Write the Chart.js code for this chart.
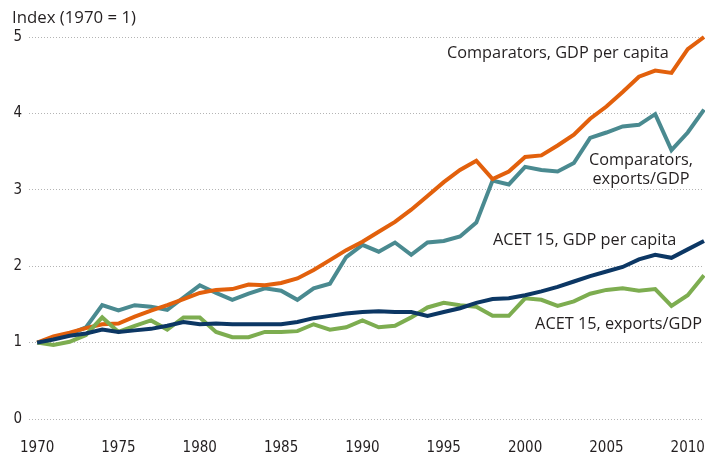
<!DOCTYPE html>
<html>
<head>
<meta charset="utf-8">
<script src="https://cdn.jsdelivr.net/npm/chart.js@4/dist/chart.umd.min.js"></script>
<style>
  html, body { margin: 0; padding: 0; background: #fff; }
  #wrap { width: 705px; height: 456px; position: relative; }
</style>
</head>
<body>
<div id="wrap"><canvas id="c" width="705" height="456"></canvas></div>
<script>
const years = [1970,1971,1972,1973,1974,1975,1976,1977,1978,1979,
               1980,1981,1982,1983,1984,1985,1986,1987,1988,1989,
               1990,1991,1992,1993,1994,1995,1996,1997,1998,1999,
               2000,2001,2002,2003,2004,2005,2006,2007,2008,2009,
               2010,2011];
const xTickLabels = [1970,1975,1980,1985,1990,1995,2000,2005,2010];
const yTickLabels = [0,1,2,3,4,5];

const compGdp = [1.00,1.08,1.13,1.19,1.24,1.25,1.34,1.42,1.49,1.57,
                 1.65,1.69,1.70,1.76,1.75,1.78,1.84,1.95,2.08,2.21,
                 2.32,2.45,2.58,2.74,2.92,3.10,3.26,3.38,3.14,3.24,
                 3.43,3.45,3.58,3.72,3.93,4.09,4.28,4.48,4.56,4.53,
                 4.84,5.00];
const compExp = [1.00,1.05,1.11,1.20,1.49,1.42,1.49,1.47,1.43,1.59,
                 1.75,1.65,1.56,1.64,1.71,1.68,1.56,1.71,1.77,2.12,
                 2.28,2.19,2.31,2.15,2.31,2.33,2.39,2.57,3.12,3.07,
                 3.30,3.26,3.24,3.35,3.68,3.75,3.83,3.85,3.99,3.52,
                 3.75,4.05];
const acetGdp = [1.00,1.04,1.09,1.12,1.17,1.14,1.16,1.18,1.22,1.27,
                 1.24,1.25,1.24,1.24,1.24,1.24,1.27,1.32,1.35,1.38,
                 1.40,1.41,1.40,1.40,1.35,1.40,1.45,1.52,1.57,1.58,
                 1.62,1.67,1.73,1.80,1.87,1.93,1.99,2.09,2.15,2.11,
                 2.22,2.33];
const acetExp = [1.00,0.97,1.01,1.10,1.33,1.14,1.22,1.29,1.17,1.33,
                 1.33,1.14,1.07,1.07,1.14,1.14,1.15,1.24,1.17,1.20,
                 1.29,1.20,1.22,1.33,1.46,1.52,1.49,1.47,1.35,1.35,
                 1.58,1.56,1.48,1.54,1.64,1.69,1.71,1.68,1.70,1.48,
                 1.62,1.88];

const seriesNames = ["ACET 15, GDP per capita","ACET 15, exports/GDP","Comparators, GDP per capita","Comparators, exports/GDP"];
const colors = { navy:"#0c3764", green:"#7dad50", orange:"#e2600c", teal:"#4a8a90" };

function pts(arr){ return arr.map((v,i)=>({x:years[i], y:v})); }

const labelPlugin = {
  id: "labels",
  afterDraw(chart) {
    const ctx = chart.ctx;
    ctx.save();
    ctx.fillStyle = "#231f20";
    ctx.textBaseline = "alphabetic";
    ctx.font = "16.8px 'Open Sans', 'Noto Sans', sans-serif";
    ctx.textAlign = "left";
    ctx.fillText("Index (1970 = 1)", 12, 23);
    ctx.font = "16.3px 'Open Sans', 'Noto Sans', sans-serif";
    ctx.fillText("Comparators, GDP per capita", 447, 58);
    ctx.fillText("ACET 15, GDP per capita", 493, 244.5);
    ctx.textAlign = "right";
    ctx.fillText("ACET 15, exports/GDP", 702, 328.5);
    ctx.textAlign = "center";
    ctx.fillText("Comparators,", 641, 165);
    ctx.fillText("exports/GDP", 641, 184);
    ctx.restore();
  }
};

const tickFont = { family: "'DejaVu Sans Condensed', 'Liberation Sans Narrow', sans-serif", size: 15 };

new Chart(document.getElementById("c"), {
  type: "line",
  data: {
    datasets: [
      { label: seriesNames[0], data: pts(acetGdp), borderColor: colors.navy },
      { label: seriesNames[1], data: pts(acetExp), borderColor: colors.green },
      { label: seriesNames[2], data: pts(compGdp), borderColor: colors.orange },
      { label: seriesNames[3], data: pts(compExp), borderColor: colors.teal }
    ].map(d => Object.assign(d, { borderWidth: 4, pointRadius: 0, tension: 0, fill: false, clip: 6 }))
  },
  options: {
    responsive: false,
    animation: false,
    devicePixelRatio: 1,
    layout: { padding: { top: 37, right: 1, left: 0, bottom: 0 } },
    plugins: { legend: { display: false }, tooltip: { enabled: false } },
    scales: {
      x: {
        type: "linear",
        min: 1969.5,
        max: 2011,
        afterBuildTicks: s => { s.ticks = xTickLabels.map(v => ({ value: v })); },
        grid: { display: false, drawTicks: false },
        border: { display: false },
        ticks: {
          padding: 20,
          color: "#231f20",
          font: tickFont,
          callback: v => String(v),
          maxRotation: 0, autoSkip: false
        },
        afterFit: s => { s.height = 37; s.paddingLeft = 0; s.paddingRight = 0; }
      },
      y: {
        min: 0,
        max: 5,
        afterBuildTicks: s => { s.ticks = yTickLabels.map(v => ({ value: v })); },
        grid: { color: "#b4b4b4", lineWidth: 1, drawTicks: false },
        border: { display: false, dash: [1,2] },
        ticks: {
          padding: 7,
          color: "#231f20",
          font: tickFont
        },
        afterFit: s => { s.width = 29; s.paddingTop = 0; s.paddingBottom = 0; }
      }
    }
  },
  plugins: [labelPlugin]
});
</script>
</body>
</html>
